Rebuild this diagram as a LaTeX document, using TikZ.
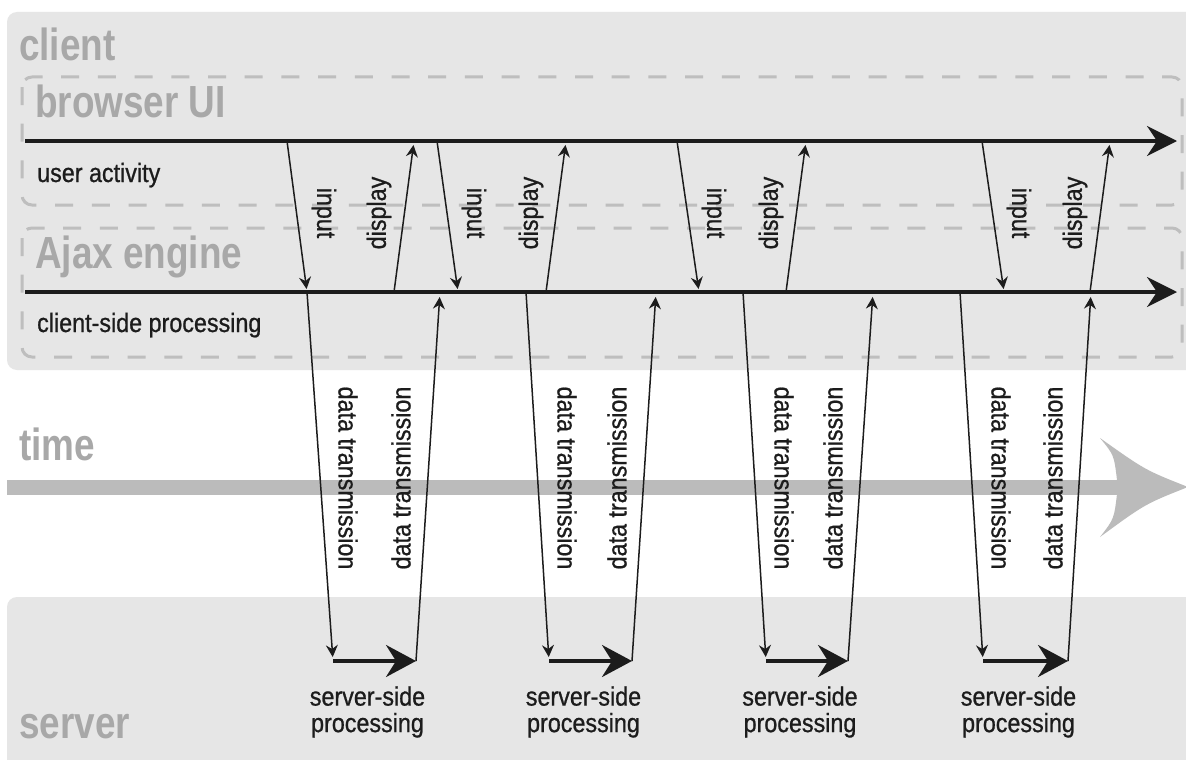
\documentclass[tikz,border=0pt]{standalone}
\usepackage{fontspec}
\setmainfont{Liberation Sans}
\newfontfamily\headfont{Liberation Sans}[FakeStretch=0.82]
\newfontfamily\lblfont{Liberation Sans}[FakeStretch=0.88,FakeBold=0.8]
\usetikzlibrary{arrows.meta}
\definecolor{boxgray}{HTML}{E6E6E6}
\definecolor{headgray}{HTML}{A8A8A8}
\definecolor{dashgray}{HTML}{BEBEBE}
\definecolor{timegray}{HTML}{BBBBBB}
\definecolor{ink}{HTML}{1C1C1C}
\tikzset{
 region/.style={fill=boxgray, draw=none, rounded corners=10pt},
 dashbox/.style={draw=dashgray, line width=3pt, dash pattern=on 18pt off 18.7pt, rounded corners=10pt},
 heading/.style={font=\headfont\bfseries\fontsize{45}{50}\selectfont, text=headgray, inner sep=0pt, anchor=base west},
 lbl/.style={font=\lblfont\fontsize{26.5}{26.5}\selectfont, text=ink, inner sep=0pt},
 mainline/.style={draw=ink, line width=3.5pt, -{Stealth[length=30pt,width=30pt,inset=10pt]}},
 srvarrow/.style={draw=ink, line width=3.5pt, -{Stealth[length=30pt,width=32pt,inset=10pt]}},
 flow/.style={draw=ink, line width=1.5pt, -{Stealth[length=12pt,width=12pt,inset=4pt]}},
}
\begin{document}
\begin{tikzpicture}[x=1pt,y=-1pt]
\useasboundingbox (0,0) rectangle (1186,760);
\clip (0,0) rectangle (1186,760);
\fill[white] (0,0) rectangle (1186,760);
% regions
\path[region] (7,12) rectangle (1210,370);
\path[region] (7,597) rectangle (1210,790);
\draw[dashbox] (22,77) rectangle (1182,205);
\draw[dashbox] (22,228) rectangle (1182,357);
% headings
\node[heading] (client) at (19,60) {client};
\node[heading] (browser) at (35,117) {browser UI};
\node[heading] (ajax) at (35,268) {Ajax engine};
\node[heading] (time) at (19,460) {time};
\node[heading] (server) at (19,738) {server};
\node[lbl, anchor=base west] (ua) at (37,182) {user activity};
\node[lbl, anchor=base west] (csp) at (37,332) {client-side processing};
% time arrow
\coordinate (tl) at (7,487);
\coordinate (tr) at (1118,487);
\draw[timegray, line width=15pt] (tl) -- (tr);
\fill[timegray] (1188,487) .. controls (1145,470) .. (1100,438)
  .. controls (1114,455) .. (1117,480) -- (1117,494)
  .. controls (1114,519) .. (1100,537)
  .. controls (1145,504) .. (1188,487) -- cycle;
% main lines
\coordinate (bl) at (25,141); \coordinate (br) at (1177,141);
\coordinate (al) at (25,292); \coordinate (ar) at (1177,292);
\draw[mainline] (bl) -- (br);
\draw[mainline] (al) -- (ar);
% cycles
\foreach \i/\inS/\inE/\dnS/\srvS/\srvE/\upE/\dpS/\dpE in
 {1/287/307/307/333/416/440/394/414,
  2/437/458/526/549/632/656/546/566,
  3/677/699/743/766/848/873/786/806,
  4/982/1004/960/983/1068/1091/1090/1110}{
 \coordinate (in\i s) at (\inS,141);
 \coordinate (in\i e) at (\inE,292);
 \coordinate (dn\i s) at (\dnS,292);
 \coordinate (sv\i s) at (\srvS,661);
 \coordinate (sv\i e) at (\srvE,661);
 \coordinate (up\i e) at (\upE,292);
 \coordinate (dp\i s) at (\dpS,292);
 \coordinate (dp\i e) at (\dpE,141);
 \draw[flow, shorten >=3pt] (in\i s) -- (in\i e);
 \draw[flow, shorten >=4pt] (dp\i s) -- (dp\i e);
 \draw[flow, shorten >=4pt] (dn\i s) -- (sv\i s);
 \draw[srvarrow] (sv\i s) -- (sv\i e);
 \draw[flow, shorten >=5pt] (sv\i e) -- (up\i e);
 \node[lbl, rotate=-90] (inl\i) at (\inS+37,213) {input};
 \node[lbl, rotate=90] (dpl\i) at (\dpS-15,213) {display};
 \node[lbl, rotate=-90] (dnl\i) at (\dnS+41,478) {data transmission};
 \node[lbl, rotate=90] (upl\i) at (\srvE-15,478) {data transmission};
 \node[lbl, align=center] (ssp\i) at ({(\srvS+\srvE)/2-7},712) {server-side\\processing};
}
\end{tikzpicture}
\end{document}
